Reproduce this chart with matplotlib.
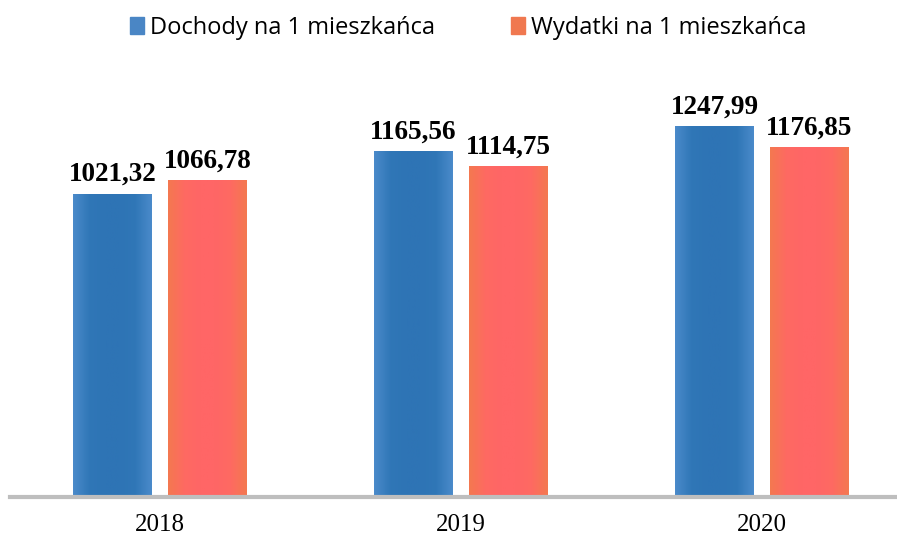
import numpy as np
import matplotlib.pyplot as plt
from matplotlib.colors import LinearSegmentedColormap
from matplotlib.patches import Patch

years = ['2018', '2019', '2020']
dochody = [1021.32, 1165.56, 1247.99]
wydatki = [1066.78, 1114.75, 1176.85]
labels = ['Dochody na 1 mieszkańca', 'Wydatki na 1 mieszkańca']

fig = plt.figure(figsize=(8.97, 5.4), dpi=100)
ax = fig.add_axes([0.011, 0.0796, 0.989, 0.809])

x = np.arange(len(years))
w = 0.26
b1 = ax.bar(x - 0.157, dochody, w, color='#2E74B5', zorder=2)
b2 = ax.bar(x + 0.158, wydatki, w, color='#FF6666', zorder=2)

# gradient fill: slightly lighter at the bar edges
cm_blue = LinearSegmentedColormap.from_list('b', ['#4A8ACA', '#3077B7', '#2E74B5', '#2E74B5', '#3077B7', '#4A8ACA'])
cm_red = LinearSegmentedColormap.from_list('r', ['#F47850', '#FE6A62', '#FF6666', '#FF6666', '#FE6A62', '#F47850'])
grad = np.linspace(0, 1, 64).reshape(1, -1)
for bars, cm in ((b1, cm_blue), (b2, cm_red)):
    for p in bars:
        x0, y0 = p.get_x(), p.get_y()
        ax.imshow(grad, cmap=cm, aspect='auto', zorder=3,
                  extent=(x0, x0 + p.get_width(), y0, y0 + p.get_height()))

ax.set_xlim(-0.498, 2.449)
ax.set_ylim(0, 1473)

for bars, vals in ((b1, dochody), (b2, wydatki)):
    for p, v in zip(bars, vals):
        ax.annotate(f'{v:.2f}'.replace('.', ','), (p.get_x() + p.get_width() / 2, v),
                    xytext=(0, 5), textcoords='offset points', ha='center', va='bottom',
                    fontsize=19.5, fontweight='bold', family='Liberation Serif', zorder=4)

ax.set_xticks(x)
ax.set_xticklabels(years, fontsize=18, family='Liberation Serif')
ax.tick_params(axis='x', length=0, pad=12)
ax.set_yticks([])
for s in ['top', 'right', 'left']:
    ax.spines[s].set_visible(False)
ax.spines['bottom'].set_color('#BEBEBE')
ax.spines['bottom'].set_linewidth(3)
ax.spines['bottom'].set_zorder(5)

handles = [Patch(color='#4A86C5'), Patch(color='#F07850')]
fig.legend(handles, labels, loc='upper center', bbox_to_anchor=(0.522, 1.01), ncol=2,
           frameon=False, prop={'family': 'Open Sans', 'size': 17},
           handlelength=0.6, handleheight=0.75, handletextpad=0.25, columnspacing=3.2)

fig.savefig('out.png', dpi=100)
